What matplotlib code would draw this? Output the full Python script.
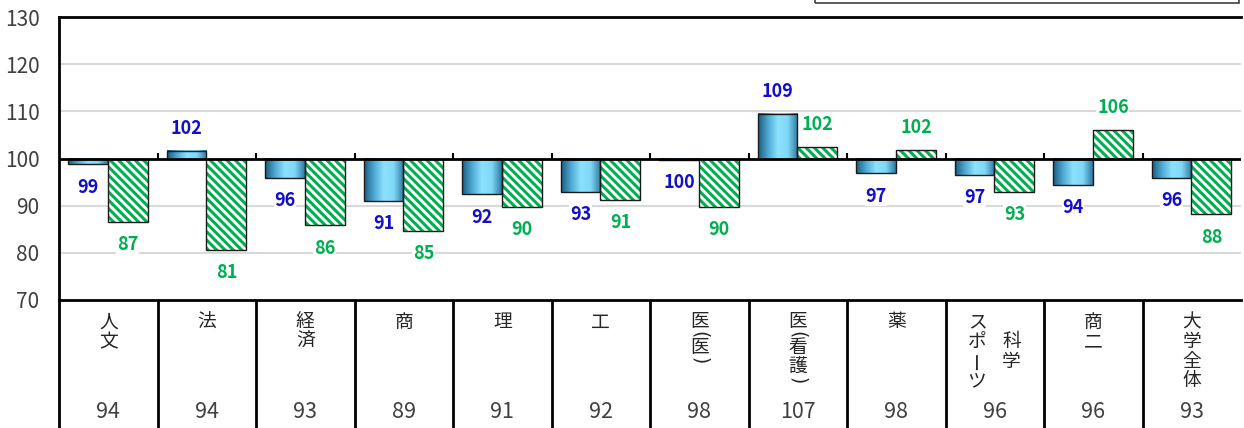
import numpy as np
import matplotlib
matplotlib.use("Agg")
import matplotlib.pyplot as plt
from matplotlib import transforms
from matplotlib.colors import LinearSegmentedColormap
from matplotlib.patches import Rectangle

plt.rcParams['font.family'] = ['Noto Sans CJK JP', 'DejaVu Sans']
plt.rcParams['hatch.linewidth'] = 2.2

# 学部ごとの指数 (100 = 基準)
categories = ['人文', '法', '経済', '商', '理', '工', '医(医)', '医(看護)', '薬',
              'スポーツ\n科学', '商二', '大学全体']
blue_vals = [98.8, 101.6, 95.9, 91.0, 92.4, 92.9, 99.7, 109.4, 96.9, 96.6, 94.4, 95.9]
green_vals = [86.6, 80.6, 85.8, 84.7, 89.7, 91.2, 89.7, 102.4, 101.8, 93.0, 106.0, 88.2]
table_vals = [94, 94, 93, 89, 91, 92, 98, 107, 98, 96, 96, 93]
yticks = [70, 80, 90, 100, 110, 120, 130]

BASE = 100
W = 0.405
BLUE_TXT = '#1010C8'
GREEN = '#00B050'
GRAY_TXT = '#404040'

fig = plt.figure(figsize=(12.44, 4.28), dpi=100)
ax = fig.add_axes([59 / 1244, 1 - 300 / 428, 1182 / 1244, 283 / 428])

grad = LinearSegmentedColormap.from_list(
    'bl', ['#1c5d80', '#4fa9d3', '#8be1ff', '#80d8f8', '#2f7aa2'], N=256)
g = np.linspace(0, 1, 64).reshape(1, -1)

for i, (b, gv) in enumerate(zip(blue_vals, green_vals)):
    x0 = i + 0.092
    # 青: グラデーション
    ax.imshow(g, extent=[x0, x0 + W, BASE, b], aspect='auto', cmap=grad,
              zorder=2, interpolation='bilinear')
    ax.bar(x0, b - BASE, W, bottom=BASE, align='edge', fill=False,
           edgecolor='#1a1a1a', lw=1.0, zorder=3)
    # 緑: 斜線
    ax.bar(x0 + W, gv - BASE, W, bottom=BASE, align='edge', facecolor='white',
           edgecolor=GREEN, hatch='\\\\\\\\', lw=0, zorder=2)
    ax.bar(x0 + W, gv - BASE, W, bottom=BASE, align='edge', fill=False,
           edgecolor='#1a1a1a', lw=1.0, zorder=3)

    for xc, v, col in [(x0 + W / 2, b, BLUE_TXT), (x0 + 1.5 * W, gv, GREEN)]:
        off = 16 if v >= BASE else -16.5
        ax.annotate(f"{v:.0f}", (xc, v), xytext=(0, off), textcoords='offset points',
                    ha='center', va='center', fontsize=13, fontweight='bold',
                    color=col, zorder=5,
                    bbox=dict(facecolor='white', edgecolor='none', pad=0.5))

ax.set_xlim(0, len(categories))
ax.set_ylim(70, 130)
ax.set_yticks(yticks)
ax.set_xticks([])
ax.tick_params(axis='y', length=0, pad=14, labelsize=15, labelcolor=GRAY_TXT)
for yv in [80, 90, 110, 120]:
    ax.axhline(yv, color='#d9d9d9', lw=1.5, zorder=1)
ax.axhline(BASE, color='black', lw=2, zorder=4)
ax.vlines(np.arange(1, len(categories)), BASE, BASE + 1.1, color='black', lw=1.5, zorder=4)

ax.spines['right'].set_visible(False)
for s in ['left', 'top', 'bottom']:
    ax.spines[s].set_linewidth(2)
    ax.spines[s].set_color('black')

# 下の表
xt = ax.get_xaxis_transform()
ax.vlines(np.arange(0, len(categories)), -0.46, 0, transform=xt, color='black',
          lw=2, clip_on=False)

tr = transforms.blended_transform_factory(ax.transData, fig.transFigure)
PAREN = '()'


def vertical_text(xc, label, y_start):
    cols = label.split('\n')
    for ci, col in enumerate(cols):
        if len(cols) == 2:
            dx = -0.18 if ci == 0 else 0.17
            y = y_start + (20 if ci == 1 else 0)
        else:
            dx, y = 0, y_start
        prev = None
        for ch in col:
            if prev is not None:
                y += 13 if (ch in PAREN or prev in PAREN) else 19.5
            rot = 90 if ch == 'ー' else (-90 if ch in PAREN else 0)
            fig.text(xc + dx, 1 - y / 428, ch, transform=tr,
                     ha='center', va='center', fontsize=13.5, color='#262626',
                     rotation=rot, family=['DejaVu Sans'] if ch in PAREN else None)
            prev = ch


for i, (cat, tv) in enumerate(zip(categories, table_vals)):
    vertical_text(i + 0.5, cat, 322)
    fig.text(i + 0.5, 1 - 412 / 428, str(tv), transform=tr, ha='center',
             va='center', fontsize=15.5, color=GRAY_TXT)

# 凡例枠 (上端で切れている)
fig.patches.append(Rectangle((815 / 1244, 1 - 2.5 / 428), 424 / 1244, 0.1,
                             transform=fig.transFigure, fill=False,
                             edgecolor='#404040', lw=1.2))

fig.savefig('out.png', dpi=100)
